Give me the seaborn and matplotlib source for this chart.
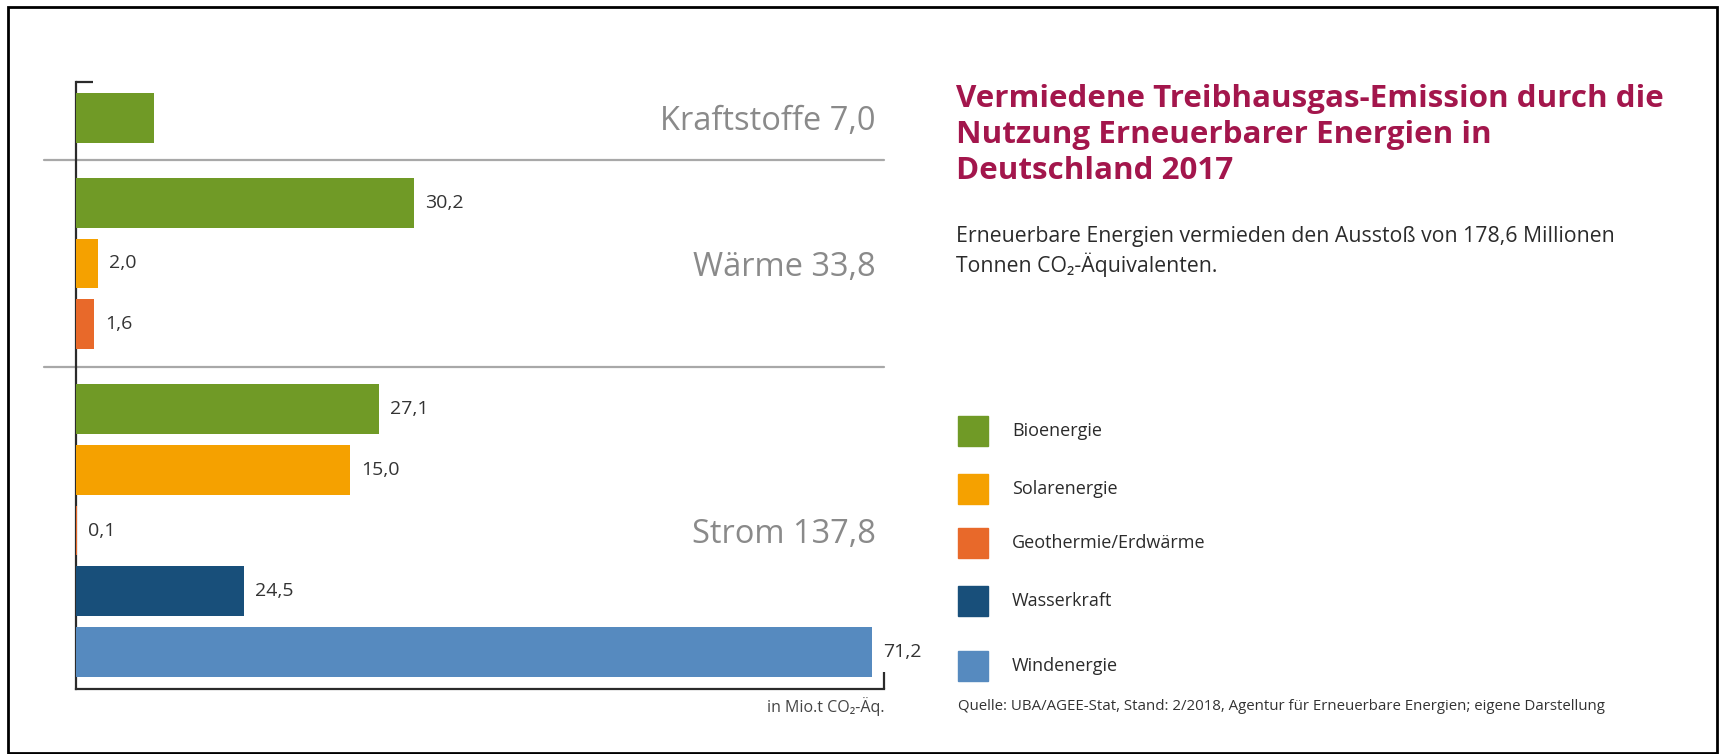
import matplotlib

matplotlib.use("Agg")
import matplotlib.pyplot as plt
import matplotlib.transforms as mtransforms
import pandas as pd
import seaborn as sns
from matplotlib.patches import Rectangle

# --------------------------------------------------------------------------- #
# Data (bar lengths as drawn; printed labels as shown in the source graphic)
# --------------------------------------------------------------------------- #
groups = ["Kraftstoffe", "Wärme", "Strom"]
group_totals = [7.0, 33.8, 137.8]

bar_groups = ["Kraftstoffe",
              "Wärme", "Wärme", "Wärme",
              "Strom", "Strom", "Strom", "Strom", "Strom"]
bar_sources = ["Bioenergie",
               "Bioenergie", "Solarenergie", "Geothermie/Erdwärme",
               "Bioenergie", "Solarenergie", "Geothermie/Erdwärme",
               "Wasserkraft", "Windenergie"]
bar_values = [7.0, 30.2, 2.0, 1.6, 27.1, 24.5, 0.1, 15.0, 71.2]
bar_labels = ["", "30,2", "2,0", "1,6", "27,1", "15,0", "0,1", "24,5", "71,2"]

sources = ["Bioenergie", "Solarenergie", "Geothermie/Erdwärme",
           "Wasserkraft", "Windenergie"]
colors = ["#709a26", "#f5a100", "#e8692a", "#184f7a", "#568abf"]

title_lines = ["Vermiedene Treibhausgas-Emission durch die",
               "Nutzung Erneuerbarer Energien in",
               "Deutschland 2017"]
subtitle_lines = ["Erneuerbare Energien vermieden den Ausstoß von 178,6 Millionen",
                  "Tonnen CO₂-Äquivalenten."]
unit_label = "in Mio.t CO₂-Äq."
source_note = ("Quelle: UBA/AGEE-Stat, Stand: 2/2018, Agentur für Erneuerbare "
               "Energien; eigene Darstellung")

# --------------------------------------------------------------------------- #
# Layout helpers (figure pixels -> figure fraction)
# --------------------------------------------------------------------------- #
W, H = 1719, 754


def fx(px):
    return px / W


def fy(py):
    return 1 - py / H


def de(v):
    return f"{v:.1f}".replace(".", ",")


# bar positions: one slot per bar, extra gap between groups
GAP = 0.4
positions, group_mid, seps = [], {}, []
pos = 0.0
for g in groups:
    n = bar_groups.count(g)
    idx = [pos + i for i in range(n)]
    positions += idx
    group_mid[g] = sum(idx) / n
    pos += n + GAP
    seps.append(pos - (1 + GAP) / 2)
seps = seps[:-1]

df = pd.DataFrame({"group": bar_groups, "source": bar_sources,
                   "value": bar_values, "pos": positions})

sns.set_style("white")
plt.rcParams["font.family"] = ["Open Sans", "DejaVu Sans"]

fig = plt.figure(figsize=(W / 100, H / 100), dpi=100)
ax = fig.add_axes([fx(76), fy(689), fx(884) - fx(76), fy(82) - fy(689)])

sns.barplot(data=df, x="value", y="pos", hue="source", orient="h",
            native_scale=True, dodge=False, width=0.82, linewidth=0,
            palette=dict(zip(sources, colors)), hue_order=sources,
            legend=False, saturation=1, ax=ax)
for p in ax.patches:
    p.set_zorder(3)

ax.set_xlim(0, 72.3)
ax.set_ylim(9.41, -0.59)
ax.set_xlabel("")
ax.set_ylabel("")
for side in ["top", "right"]:
    ax.spines[side].set_visible(False)
for side in ["left", "bottom"]:
    ax.spines[side].set_color("#2b2b2b")
    ax.spines[side].set_linewidth(1.6)

# small inward end ticks at the axis ends
ax.set_yticks([-0.59])
ax.set_xticks([72.3])
ax.tick_params(axis="y", direction="in", length=12, width=1.6,
               color="#2b2b2b", labelleft=False, left=True)
ax.tick_params(axis="x", direction="in", length=12, width=1.6,
               color="#2b2b2b", labelbottom=False, bottom=True)

# value labels
for lab, v, p in zip(bar_labels, bar_values, positions):
    if lab:
        ax.annotate(lab, (v, p), xytext=(8, 0), textcoords="offset points",
                    va="center", ha="left", fontsize=14, color="#333333")

# group separators, extending left of the axis
trans = mtransforms.blended_transform_factory(ax.transAxes, ax.transData)
for s in seps:
    ax.plot([-32 / 808, 1.0], [s, s], color="#a8a8a8", lw=1.6,
            transform=trans, clip_on=False)

# group labels with totals
for g, t in zip(groups, group_totals):
    ax.annotate(f"{g} {de(t)}", (0.990, group_mid[g]), xycoords=trans,
                xytext=(0, -3), textcoords="offset points",
                ha="right", va="center", fontsize=23.5, color="#8a8a8a")

# unit label
fig.text(fx(884), fy(707), unit_label, ha="right", va="center",
         fontsize=11.5, color="#444444")

# title and subtitle
for i, line in enumerate(title_lines):
    fig.text(fx(956), fy(107 + 36 * i), line, ha="left", va="baseline",
             fontsize=22.6, fontweight="bold", color="#a3164c")
for i, line in enumerate(subtitle_lines):
    fig.text(fx(956), fy(242 + 30 * i), line, ha="left", va="baseline",
             fontsize=15.3, color="#2b2b2b")

# legend
legend_y = [431, 489, 543, 601, 666]
for name, c, y in zip(sources, colors, legend_y):
    fig.patches.append(Rectangle((fx(958), fy(y + 15)), fx(30), 30 / H,
                                 transform=fig.transFigure, color=c))
    fig.text(fx(1012), fy(y), name, ha="left", va="center",
             fontsize=13, color="#2b2b2b")

fig.text(fx(958), fy(707), source_note, ha="left", va="center",
         fontsize=10.8, color="#333333")

# outer frame
fig.patches.append(Rectangle((fx(8), fy(753)), fx(1717 - 8), (753 - 7) / H,
                             transform=fig.transFigure, fill=False,
                             edgecolor="black", lw=2))

fig.savefig("out.png", dpi=100)
